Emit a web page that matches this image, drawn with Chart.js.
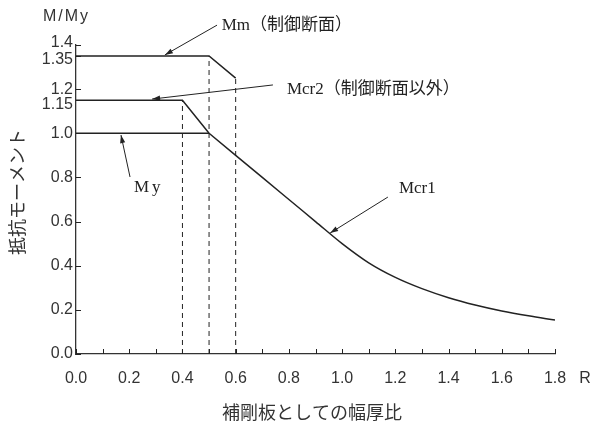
<!DOCTYPE html>
<html>
<head>
<meta charset="utf-8">
<script src="https://cdn.jsdelivr.net/npm/chart.js@4.4.1/dist/chart.umd.min.js"></script>
<style>
  body { margin: 0; background: #fff; }
  canvas { display: block; }
</style>
</head>
<body>
<canvas id="momentChart" width="591" height="425"></canvas>
<script>
// curve data (R, M/My)
const myX = [0, 0.5];
const myY = [1.0, 1.0];
const mmX = [0, 0.5, 0.6];
const mmY = [1.35, 1.35, 1.25];
const mcr2X = [0, 0.4, 0.5];
const mcr2Y = [1.15, 1.15, 1.0];
const mcr1X = [0.5, 0.6, 0.7, 0.8, 0.9, 1.0, 1.1, 1.2, 1.3, 1.4, 1.5, 1.6, 1.7, 1.8];
const mcr1Y = [1.0, 0.9, 0.8, 0.7, 0.6, 0.5, 0.413, 0.347, 0.296, 0.255, 0.222, 0.195, 0.173, 0.154];
// dashed guide lines: x position and height
const guideX = [0.4, 0.5, 0.6];
const guideTop = [1.15, 1.35, 1.25];

const xTickLabels = ['0.0', '0.2', '0.4', '0.6', '0.8', '1.0', '1.2', '1.4', '1.6', '1.8'];
const yTickValues = [0, 0.2, 0.4, 0.6, 0.8, 1.0, 1.15, 1.2, 1.35, 1.4];
const yTickLabels = ['0.0', '0.2', '0.4', '0.6', '0.8', '1.0', '1.15', '1.2', '1.35', '1.4'];

const pts = (xs, ys) => xs.map((x, i) => ({ x: x, y: ys[i] }));
const INK = '#222';
const SERIF = '"Liberation Serif", "Noto Sans CJK JP", serif';
const SANS = '"Liberation Sans", Arial, sans-serif';

function solid(data, extra) {
    return Object.assign({
        data: data, showLine: true, pointRadius: 0,
        borderColor: INK, borderWidth: 1.5, fill: false
    }, extra || {});
}

const datasets = [
    solid(pts(myX, myY)),
    solid(pts(mmX, mmY)),
    solid(pts(mcr2X, mcr2Y)),
    solid(pts(mcr1X, mcr1Y), { cubicInterpolationMode: 'monotone' })
];
guideX.forEach((gx, i) => {
    datasets.push(solid(pts([gx, gx], [0, guideTop[i]]), { borderWidth: 1, borderDash: [5, 4] }));
});

// labels with leader arrows, positions in data units
const callouts = [
    { text: 'Mm（制御断面）', tx: 0.54, ty: 1.49, from: [0.53, 1.49], to: [0.334, 1.355] },
    { text: 'Mcr2（制御断面以外）', tx: 0.785, ty: 1.20, from: [0.74, 1.219], to: [0.286, 1.155] },
    { text: 'My', tx: 0.21, ty: 0.752, from: [0.203, 0.802], to: [0.169, 0.992], spacing: '3px' },
    { text: 'Mcr1', tx: 1.206, ty: 0.748, from: [1.172, 0.711], to: [0.955, 0.548] }
];

function arrow(c, x1, y1, x2, y2) {
    c.beginPath();
    c.moveTo(x1, y1);
    c.lineTo(x2, y2);
    c.stroke();
    const a = Math.atan2(y2 - y1, x2 - x1);
    const len = 8, w = 2.6;
    c.beginPath();
    c.moveTo(x2, y2);
    c.lineTo(x2 - len * Math.cos(a) + w * Math.sin(a), y2 - len * Math.sin(a) - w * Math.cos(a));
    c.lineTo(x2 - len * Math.cos(a) - w * Math.sin(a), y2 - len * Math.sin(a) + w * Math.cos(a));
    c.closePath();
    c.fill();
}

const decor = {
    id: 'decor',
    afterDraw(chart) {
        const c = chart.ctx, xs = chart.scales.x, ys = chart.scales.y;
        const area = chart.chartArea;
        c.save();
        c.strokeStyle = INK;
        c.fillStyle = INK;
        c.lineWidth = 1;

        // inward tick marks
        xs.ticks.forEach(t => {
            const px = Math.round(xs.getPixelForValue(t.value)) + 0.5;
            c.beginPath(); c.moveTo(px, area.bottom); c.lineTo(px, area.bottom - 5); c.stroke();
        });
        yTickValues.forEach(v => {
            const py = Math.round(ys.getPixelForValue(v)) + 0.5;
            c.beginPath(); c.moveTo(area.left, py); c.lineTo(area.left + 5, py); c.stroke();
        });

        // tick labels
        c.font = '16px ' + SANS;
        c.fillStyle = '#333';
        c.textAlign = 'center';
        c.textBaseline = 'middle';
        xTickLabels.forEach(l => {
            c.fillText(l, xs.getPixelForValue(parseFloat(l)), area.bottom + 25);
        });
        c.fillText('R', 585, area.bottom + 25);
        const shift = { '1.15': 4, '1.35': 4, '1.4': -2 };
        c.textAlign = 'right';
        yTickLabels.forEach((l, i) => {
            c.fillText(l, area.left - 3, ys.getPixelForValue(yTickValues[i]) + (shift[l] || 0));
        });

        // axis titles
        c.textAlign = 'left';
        c.letterSpacing = '2px';
        c.fillText('M/My', 43, 17);
        c.letterSpacing = '0px';
        c.font = '18px "Noto Sans CJK JP", sans-serif';
        c.textAlign = 'center';
        c.fillText('補剛板としての幅厚比', 312, 412);
        c.save();
        c.translate(17, 192);
        c.rotate(-Math.PI / 2);
        c.fillText('抵抗モーメント', 0, 0);
        c.restore();

        // callouts
        c.fillStyle = INK;
        c.lineWidth = 1;
        callouts.forEach(o => {
            arrow(c, xs.getPixelForValue(o.from[0]), ys.getPixelForValue(o.from[1]),
                xs.getPixelForValue(o.to[0]), ys.getPixelForValue(o.to[1]));
            c.font = '17px ' + SERIF;
            c.textAlign = 'left';
            c.textBaseline = 'middle';
            c.letterSpacing = o.spacing || '0px';
            c.fillText(o.text, xs.getPixelForValue(o.tx) + 2, ys.getPixelForValue(o.ty));
            c.letterSpacing = '0px';
        });
        c.restore();
    }
};

new Chart(document.getElementById('momentChart'), {
    type: 'scatter',
    data: { datasets: datasets },
    options: {
        responsive: false,
        animation: false,
        layout: { padding: { top: 45, right: 36, left: 0, bottom: 0 } },
        plugins: { legend: { display: false }, tooltip: { enabled: false } },
        scales: {
            x: {
                type: 'linear', min: 0, max: 1.8,
                ticks: { display: false, stepSize: 0.1 },
                grid: { display: false, drawTicks: false },
                border: { display: true, color: '#333', width: 1.3 },
                afterFit(s) { s.height = 71; }
            },
            y: {
                type: 'linear', min: 0, max: 1.4,
                ticks: { display: false },
                afterBuildTicks(s) { s.ticks = yTickValues.map(v => ({ value: v })); },
                grid: { display: false, drawTicks: false },
                border: { display: true, color: '#333', width: 1.3 },
                afterFit(s) { s.width = 76; }
            }
        }
    },
    plugins: [decor]
});
</script>
</body>
</html>
